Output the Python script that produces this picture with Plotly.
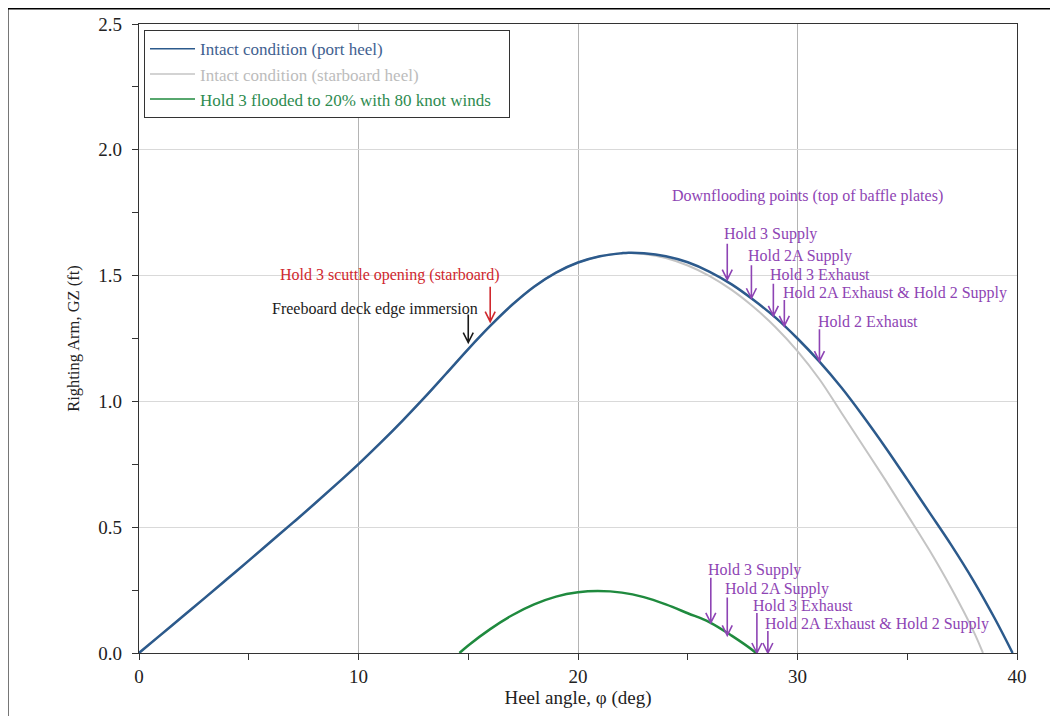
import plotly.graph_objects as go

# ---------------- data ----------------
port_x = [0, 1, 2, 3, 4, 5, 6, 7, 8, 9, 10, 11, 12, 13, 14, 15, 16, 17, 18, 19, 20, 21, 22, 22.3,
          23, 24, 25, 26, 27, 28, 29, 30, 31, 32, 33, 34, 35, 36, 37, 38, 39, 39.8]
port_gz = [0, 0.073, 0.146, 0.219, 0.293, 0.367, 0.442, 0.517, 0.593, 0.671, 0.751, 0.835, 0.923,
           1.015, 1.111, 1.208, 1.300, 1.384, 1.456, 1.512, 1.552, 1.577, 1.589, 1.591,
           1.589, 1.577, 1.553, 1.515, 1.465, 1.403, 1.333, 1.25, 1.158, 1.055, 0.94, 0.818, 0.69,
           0.56, 0.43, 0.29, 0.135, 0]

stbd_x = [0, 1, 2, 3, 4, 5, 6, 7, 8, 9, 10, 11, 12, 13, 14, 15, 16, 17, 18, 19, 20, 21, 22, 22.3,
          23, 24, 25, 26, 27, 28, 29, 30, 31, 32, 33, 34, 35, 36, 37, 38, 38.45]
stbd_gz = [0, 0.073, 0.146, 0.219, 0.293, 0.367, 0.442, 0.517, 0.593, 0.671, 0.751, 0.835, 0.923,
           1.015, 1.111, 1.208, 1.300, 1.384, 1.456, 1.512, 1.552, 1.577, 1.589, 1.590,
           1.586, 1.57, 1.54, 1.498, 1.443, 1.375, 1.295, 1.2, 1.088, 0.955, 0.822, 0.688, 0.55,
           0.41, 0.258, 0.09, 0]

flood_x = [14.6, 15, 16, 17, 18, 19, 20, 20.9, 22, 23, 24, 25, 26, 27, 28, 28.1]
flood_gz = [0, 0.03, 0.095, 0.15, 0.193, 0.224, 0.241, 0.246, 0.240, 0.222, 0.193, 0.158, 0.122,
            0.069, 0.008, 0]

series_names = ["Intact condition (port heel)", "Intact condition (starboard heel)",
                "Hold 3 flooded to 20% with 80 knot winds"]
series_colors = ["#2c5a8c", "#c4c4c4", "#1f8a3e"]
legend_text_colors = ["#3f6190", "#bcbcbc", "#2e8b50"]

# downflooding points on the intact curve
top_labels = ["Hold 3 Supply", "Hold 2A Supply", "Hold 3 Exhaust",
              "Hold 2A Exhaust & Hold 2 Supply", "Hold 2 Exhaust"]
top_tip_x = [26.8, 27.9, 28.9, 29.4, 31.0]
top_tip_y = [1.484, 1.41, 1.34, 1.30, 1.16]
top_lab_x = [26.56, 27.65, 28.66, 29.25, 30.84]
top_lab_y = [1.665, 1.578, 1.506, 1.431, 1.316]
top_len = [36, 33, 32, 26, 32]

# downflooding points on the flooded curve
bot_labels = ["Hold 3 Supply", "Hold 2A Supply", "Hold 3 Exhaust", "Hold 2A Exhaust & Hold 2 Supply"]
bot_tip_x = [26.05, 26.8, 28.15, 28.65]
bot_tip_y = [0.12, 0.07, 0.0, 0.0]
bot_lab_x = [25.83, 26.61, 27.88, 28.43]
bot_lab_y = [0.33, 0.254, 0.187, 0.115]
bot_len = [45, 38, 40, 22]

# other openings
other_labels = ["Hold 3 scuttle opening (starboard)", "Freeboard deck edge immersion"]
other_colors = ["#d0282e", "#1a1a1a"]
other_tip_x = [16.0, 15.0]
other_tip_y = [1.317, 1.234]
other_lab_x = [6.33, 5.97]
other_lab_y = [1.502, 1.367]
other_len = [35, 28]

PURPLE = "#8e44b4"
FONT = "Liberation Serif"
ANN_SIZE = 16

fig = go.Figure()
# legend-only entries (thin lines like the original key)
for nm, c, tc in zip(series_names, series_colors, legend_text_colors):
    fig.add_trace(go.Scatter(x=[None], y=[None], mode="lines", line=dict(color=c, width=1.5),
                             name=f"<span style='color:{tc}'>{nm}</span>&nbsp;&nbsp;&nbsp;"))
fig.add_trace(go.Scatter(x=stbd_x, y=stbd_gz, mode="lines", line=dict(color=series_colors[1], width=2, shape="spline"),
                         showlegend=False))
fig.add_trace(go.Scatter(x=port_x, y=port_gz, mode="lines", line=dict(color=series_colors[0], width=2.5, shape="spline"),
                         showlegend=False))
fig.add_trace(go.Scatter(x=flood_x, y=flood_gz, mode="lines", line=dict(color=series_colors[2], width=2.5, shape="spline"),
                         showlegend=False))

shapes = []
annotations = []


def add_arrow(x, y, length, color):
    shapes.append(dict(type="path", xref="x", yref="y", xsizemode="pixel", ysizemode="pixel",
                       xanchor=x, yanchor=y,
                       path=f"M0,0 L0,{length} M-5,10 L0,0 L5,10",
                       line=dict(color=color, width=1.6)))


def add_label(x, y, text, color):
    annotations.append(dict(x=x, y=y, text=text, showarrow=False, xanchor="left", yanchor="middle",
                            font=dict(family=FONT, size=ANN_SIZE, color=color)))


for lab, tx, ty, lx, ly, ln in zip(top_labels, top_tip_x, top_tip_y, top_lab_x, top_lab_y, top_len):
    add_arrow(tx, ty, ln, PURPLE)
    add_label(lx, ly, lab, PURPLE)
for lab, tx, ty, lx, ly, ln in zip(bot_labels, bot_tip_x, bot_tip_y, bot_lab_x, bot_lab_y, bot_len):
    add_arrow(tx, ty, ln, PURPLE)
    add_label(lx, ly, lab, PURPLE)
for lab, col, tx, ty, lx, ly, ln in zip(other_labels, other_colors, other_tip_x, other_tip_y,
                                         other_lab_x, other_lab_y, other_len):
    add_arrow(tx, ty, ln, col)
    add_label(lx, ly, lab, col)

add_label(24.19, 1.816, "Downflooding points (top of baffle plates)", PURPLE)

# outer frame
shapes.append(dict(type="rect", xref="paper", yref="paper", x0=-0.1503, x1=1.0399, y0=-0.13, y1=1.0254,
                   line=dict(color="black", width=3), layer="above"))

fig.update_layout(
    width=1050, height=708,
    margin=dict(l=131, r=41, t=16, b=63, autoexpand=False),
    paper_bgcolor="white", plot_bgcolor="white",
    font=dict(family=FONT, size=16, color="#222222"),
    shapes=shapes, annotations=annotations,
    showlegend=True,
    legend=dict(x=0.0057, y=0.99, xanchor="left", yanchor="top", bgcolor="white",
                bordercolor="#333333", borderwidth=1, font=dict(family=FONT, size=17),
                tracegroupgap=0, itemwidth=45),
)
fig.update_xaxes(range=[0, 40], dtick=10, tick0=0, showgrid=True, gridcolor="#b4b4b4", gridwidth=1,
                 showline=True, linecolor="#333333", linewidth=1.2, mirror=True, automargin=False,
                 ticks="outside", ticklen=6, tickcolor="#333333",
                 minor=dict(dtick=5, ticks="outside", ticklen=6, tickcolor="#333333", showgrid=False),
                 zeroline=False, tickfont=dict(size=19, family=FONT),
                 title=dict(text="Heel angle, φ (deg)", font=dict(size=19, family=FONT), standoff=4))
fig.update_yaxes(range=[0, 2.5], dtick=0.5, tick0=0, showgrid=True, gridcolor="#d9d9d9", gridwidth=1,
                 showline=True, linecolor="#333333", linewidth=1.2, mirror=True, automargin=False,
                 ticks="outside", ticklen=6, tickcolor="#333333", tickformat=".1f",
                 ticklabelstandoff=6,
                 minor=dict(dtick=0.25, ticks="outside", ticklen=6, tickcolor="#333333", showgrid=False),
                 zeroline=False, tickfont=dict(size=19, family=FONT),
                 title=dict(text="Righting Arm, GZ (ft)", font=dict(size=16.5, family=FONT), standoff=14))

fig.write_html("out.html")
